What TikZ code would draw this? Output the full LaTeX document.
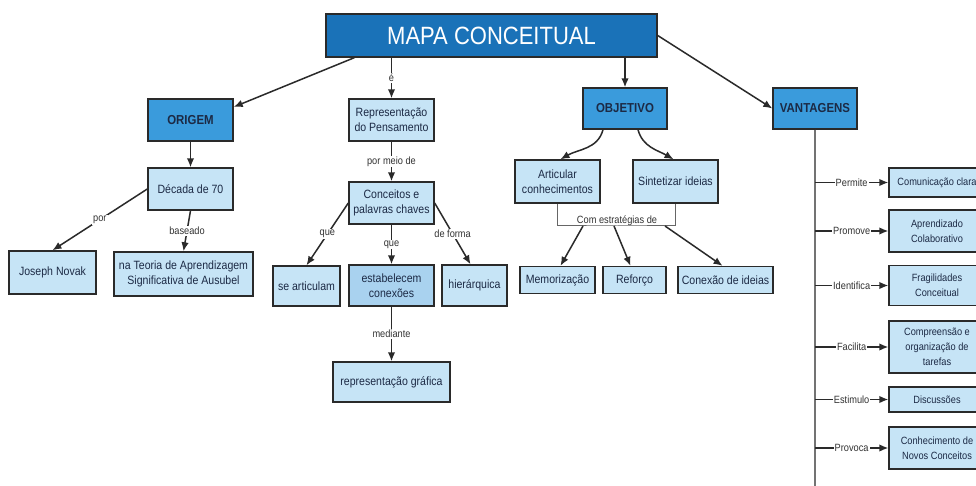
\documentclass[tikz,border=0pt]{standalone}
\usepackage{fontspec}
\setmainfont{Liberation Sans}[FakeStretch=0.88]
\usetikzlibrary{positioning,arrows.meta}

\definecolor{titleblue}{HTML}{1A72B8}
\definecolor{midblue}{HTML}{3A9BDC}
\definecolor{lightblue}{HTML}{C6E4F6}
\definecolor{darklight}{HTML}{A9D2EF}
\definecolor{edgegray}{HTML}{2A2A2A}
\definecolor{navytext}{HTML}{1C2A45}

\tikzstyle{titlebox} = [
draw=edgegray,
line width=1.4pt,
fill=titleblue,
text=white,
font=\fontsize{25}{28}\selectfont,
minimum width=331pt,
minimum height=43pt
]
\tikzstyle{mainbox} = [
draw=edgegray,
line width=1.4pt,
fill=midblue,
text=navytext,
font=\bfseries\fontsize{13}{15}\selectfont,
minimum width=85pt,
minimum height=42pt
]
\tikzstyle{concept} = [
draw=edgegray,
line width=1.4pt,
fill=lightblue,
text=navytext,
align=center,
inner sep=1pt,
font=\fontsize{12}{15}\selectfont
]
\tikzstyle{benefit} = [
concept,
font=\fontsize{10.5}{15}\selectfont,
minimum width=96pt
]
\tikzstyle{link} = [
fill=white,
text=black!80,
inner sep=1pt,
font=\fontsize{10.5}{11}\selectfont
]

\begin{document}
\begin{tikzpicture}[
	x=1pt, y=-1pt,
	>={Latex[length=9pt,width=7.5pt]},
	every edge/.style={draw=edgegray, line width=1.5pt}
	]
	\useasboundingbox (0,0) rectangle (976,486);
	\fill[white] (0,0) rectangle (976,486);
	
	\node[titlebox] (mapa) at (491.5,35.5) {MAPA CONCEITUAL};
	
	\node[mainbox] (origem) at (190.5,120) {ORIGEM};
	\node[concept,minimum width=85pt,minimum height=42pt] (repr) at (391.5,120) {Representação\\do Pensamento};
	\node[mainbox,minimum width=84pt,minimum height=41pt] (objetivo) at (625,108.5) {OBJETIVO};
	\node[mainbox,minimum width=84pt,minimum height=41pt] (vantagens) at (815,108.5) {VANTAGENS};
	
	% origem
	\node[concept,minimum width=85pt,minimum height=42pt] (decada) at (190.5,189) {Década de 70};
	\node[concept,minimum width=87pt,minimum height=43pt] (novak) at (52.5,272.5) {Joseph Novak};
	\node[concept,minimum width=139pt,minimum height=44pt] (ausubel) at (183.5,274) {na Teoria de Aprendizagem\\Significativa de Ausubel};
	
	% representacao
	\node[concept,minimum width=85pt,minimum height=42pt] (conceitos) at (391.5,203) {Conceitos e\\palavras chaves};
	\node[concept,minimum width=67pt,minimum height=40pt] (articulam) at (306.5,286) {se articulam};
	\node[concept,fill=darklight,minimum width=85pt,minimum height=41pt] (conexoes) at (391.5,285.5) {estabelecem\\conexões};
	\node[concept,minimum width=65pt,minimum height=41pt] (hierarquica) at (474.5,285.5) {hierárquica};
	\node[concept,minimum width=117pt,minimum height=40pt] (grafica) at (391.5,382) {representação gráfica};
	
	% objetivo
	\node[concept,minimum width=85pt,minimum height=43pt] (articular) at (557.5,181.5) {Articular\\conhecimentos};
	\node[concept,minimum width=85pt,minimum height=43pt] (sintetizar) at (675.5,181.5) {Sintetizar ideias};
	\node[concept,minimum width=75pt,minimum height=27pt] (memo) at (557.5,280) {Memorização};
	\node[concept,minimum width=63pt,minimum height=27pt] (reforco) at (634.5,280) {Reforço};
	\node[concept,minimum width=95pt,minimum height=27pt] (ideias) at (725.5,280) {Conexão de ideias};
	
	% vantagens
	\node[benefit,minimum height=29pt] (clara) at (937,182.5) {Comunicação clara};
	\node[benefit,minimum height=42pt] (colab) at (937,231) {Aprendizado\\Colaborativo};
	\node[benefit,minimum height=40pt] (frag) at (937,285.5) {Fragilidades\\Conceitual};
	\node[benefit,minimum height=52pt] (tarefas) at (937,347) {Compreensão e\\organização de\\tarefas};
	\node[benefit,minimum height=25pt] (discuss) at (937,399.5) {Discussões};
	\node[benefit,minimum height=42pt] (novos) at (937,448) {Conhecimento de\\Novos Conceitos};
	
	\coordinate (spineend) at (815,486);
	\coordinate (estr) at (617,226);
	\coordinate (b1) at (583,226);
	\coordinate (b2) at (614,226);
	\coordinate (b3) at (665,226);
	
	\path[->] ([xshift=29pt]mapa.south west) edge ([yshift=13pt]origem.east);
	\path[->] (mapa.south -| repr.north) edge node[link]{é} (repr.north);
	\path[->] (mapa.south -| objetivo.north) edge (objetivo.north);
	\path[->] (mapa.east) edge (vantagens.west);
	
	\path[->] (origem) edge (decada);
	\path[->] (decada.west) edge node[link]{por} (novak.north);
	\path[->] (decada.south) edge node[link]{baseado} (ausubel.north);
	
	\path[->] (repr) edge node[link]{por meio de} (conceitos);
	\path[->] (conceitos.west) edge node[link]{que} (articulam.north);
	\path[->] (conceitos) edge node[link]{que} (conexoes);
	\path[->] (conceitos.east) edge node[link]{de forma} ([xshift=-4pt]hierarquica.north);
	\path[->] (conexoes) edge node[link]{mediante} (grafica);
	
	\draw[->,draw=edgegray,line width=1.5pt] ([xshift=-22pt]objetivo.south) to[out=-105,in=30] ([xshift=3pt]articular.north);
	\draw[->,draw=edgegray,line width=1.5pt] ([xshift=13pt]objetivo.south) to[out=-75,in=150] ([xshift=-2pt]sintetizar.north);
	\draw[draw=black!60,line width=1pt] (articular.south) |- (estr) -| (sintetizar.south);
	\node[link,fill=none,above=-1pt of estr] (estrlabel) {Com estratégias de};
	\path[->] (b1) edge ([xshift=3pt]memo.north);
	\path[->] (b2) edge ([xshift=-4pt]reforco.north);
	\path[->] (b3) edge ([xshift=-3pt]ideias.north);
	
	\draw[draw=black!55,line width=1.4pt] (vantagens.south) -- (spineend);
	\path[->] (vantagens.south |- clara.west) edge node[link]{Permite} (clara.west);
	\path[->] (vantagens.south |- colab.west) edge node[link]{Promove} (colab.west);
	\path[->] (vantagens.south |- frag.west) edge node[link]{Identifica} (frag.west);
	\path[->] (vantagens.south |- tarefas.west) edge node[link]{Facilita} (tarefas.west);
	\path[->] (vantagens.south |- discuss.west) edge node[link]{Estimulo} (discuss.west);
	\path[->] (vantagens.south |- novos.west) edge node[link]{Provoca} (novos.west);
\end{tikzpicture}
\end{document}
